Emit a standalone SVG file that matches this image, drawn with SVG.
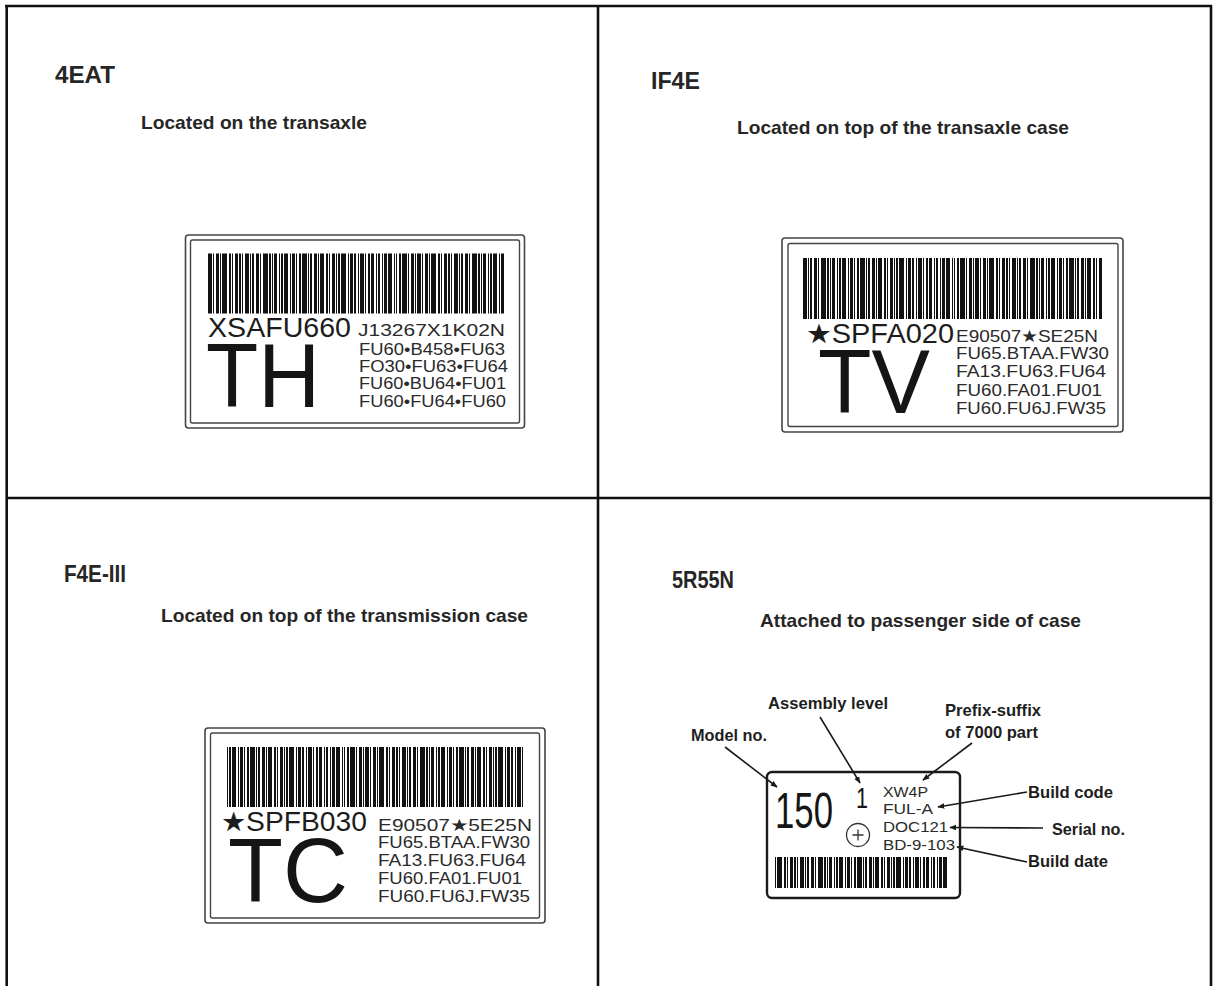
<svg xmlns="http://www.w3.org/2000/svg" width="1213" height="986" viewBox="0 0 1213 986">
<defs>
<marker id="ah" viewBox="0 0 10 10" refX="9" refY="5" markerWidth="7" markerHeight="7" markerUnits="userSpaceOnUse" orient="auto">
<path d="M0,1 L10,5 L0,9 Z" fill="#1a1a1a"/>
</marker>
</defs>
<style>
.frame{stroke:#111;stroke-width:2.6;fill:none}
.h1{font-family:"Liberation Sans",Arial,sans-serif;font-weight:bold;font-size:24px;fill:#262626}
.h2{font-family:"Liberation Sans",Arial,sans-serif;font-weight:bold;font-size:19px;fill:#262626}
.lbo{fill:#fff;stroke:#444;stroke-width:1.6}
.lbi{fill:none;stroke:#444;stroke-width:1.4}
.bc{fill:none;stroke:#111;stroke-dasharray:4 1 1 2 3 1 1 1 5 2 2 1 1 2 3 1 2 1 1 2 4 1 1 1 2 2 3 1 1 2 5 1 2 1 1 1 3 2 1 1 2 1 4 2 1 1 3 1 1 2 2 1 5 1 1 1 2 2 3 1 1 1 4 2 2 1 1 2 3 1 1 1 2 1 5 2 1 1 3 1 2 2 1 1 4 1 1 2 2 1 3 2 1 1 2 2 1 1 3 1 4 2 1 1 1 2 2 1 5 1 1 2 3 1 1 1}
.big{font-family:"Liberation Sans",Arial,sans-serif;font-size:27px;fill:#1c1c1c}
.sm{font-family:"Liberation Sans",Arial,sans-serif;font-size:17px;fill:#2a2a2a}
.huge{font-family:"Liberation Sans",Arial,sans-serif;font-size:90px;fill:#151515}
.ann{font-family:"Liberation Sans",Arial,sans-serif;font-weight:bold;font-size:16.5px;fill:#1e1e1e}
.lt{font-family:"Liberation Sans",Arial,sans-serif;font-size:15px;fill:#2a2a2a}
.arr{stroke:#1a1a1a;stroke-width:1.6;fill:none;marker-end:url(#ah)}
</style>
<rect width="1213" height="986" fill="#fff"/>
<g id="frame">
<line class="frame" x1="5" y1="6" x2="1212" y2="6"/>
<line class="frame" x1="6.7" y1="5" x2="6.7" y2="986"/>
<line class="frame" x1="1211" y1="5" x2="1211" y2="986"/>
<line class="frame" x1="598" y1="5" x2="598" y2="986"/>
<line class="frame" x1="6" y1="498" x2="1212" y2="498"/>
</g>
<g id="panel-4eat">
<text class="h1" x="55" y="83" textLength="60" lengthAdjust="spacingAndGlyphs">4EAT</text>
<text class="h2" x="141" y="129" textLength="226" lengthAdjust="spacingAndGlyphs">Located on the transaxle</text>
<g id="label-4eat">
<rect class="lbo" x="185.5" y="235" width="339" height="193" rx="3"/>
<rect class="lbi" x="190.5" y="240" width="329" height="183" rx="2"/>
<line class="bc" x1="208" y1="283.5" x2="505" y2="283.5" stroke-width="60"/>
<text class="big" x="208" y="337" textLength="143" lengthAdjust="spacingAndGlyphs">XSAFU660</text>
<text class="sm" x="358" y="336" textLength="147" lengthAdjust="spacingAndGlyphs">J13267X1K02N</text>
<text class="sm" x="359" y="355" textLength="146" lengthAdjust="spacingAndGlyphs">FU60•B458•FU63</text>
<text class="sm" x="359" y="372" textLength="149" lengthAdjust="spacingAndGlyphs">FO30•FU63•FU64</text>
<text class="sm" x="359" y="389" textLength="147" lengthAdjust="spacingAndGlyphs">FU60•BU64•FU01</text>
<text class="sm" x="359" y="407" textLength="147" lengthAdjust="spacingAndGlyphs">FU60•FU64•FU60</text>
<text class="huge" x="206" y="407" textLength="114" lengthAdjust="spacingAndGlyphs">TH</text>
</g>
</g>
<g id="panel-if4e">
<text class="h1" x="651" y="89" textLength="49" lengthAdjust="spacingAndGlyphs">IF4E</text>
<text class="h2" x="737" y="134" textLength="332" lengthAdjust="spacingAndGlyphs">Located on top of the transaxle case</text>
<g id="label-if4e">
<rect class="lbo" x="782" y="238" width="341" height="194" rx="3"/>
<rect class="lbi" x="788" y="243.5" width="330" height="183" rx="2"/>
<line class="bc" x1="803" y1="288.5" x2="1102" y2="288.5" stroke-width="61" stroke-dashoffset="37"/>
<text class="big" x="806" y="343" textLength="148" lengthAdjust="spacingAndGlyphs">★SPFA020</text>
<text class="sm" x="956" y="342" textLength="142" lengthAdjust="spacingAndGlyphs">E90507★SE25N</text>
<text class="sm" x="956" y="359" textLength="153" lengthAdjust="spacingAndGlyphs">FU65.BTAA.FW30</text>
<text class="sm" x="956" y="377" textLength="150" lengthAdjust="spacingAndGlyphs">FA13.FU63.FU64</text>
<text class="sm" x="956" y="396" textLength="146" lengthAdjust="spacingAndGlyphs">FU60.FA01.FU01</text>
<text class="sm" x="956" y="414" textLength="150" lengthAdjust="spacingAndGlyphs">FU60.FU6J.FW35</text>
<text class="huge" x="818" y="413" textLength="112" lengthAdjust="spacingAndGlyphs">TV</text>
</g>
</g>
<g id="panel-f4e3">
<text class="h1" x="64" y="582" textLength="62" lengthAdjust="spacingAndGlyphs">F4E-III</text>
<text class="h2" x="161" y="622" textLength="367" lengthAdjust="spacingAndGlyphs">Located on top of the transmission case</text>
<g id="label-f4e3">
<rect class="lbo" x="205" y="728" width="340" height="195" rx="3"/>
<rect class="lbi" x="210.5" y="733" width="329" height="185" rx="2"/>
<line class="bc" x1="227" y1="777" x2="523" y2="777" stroke-width="60" stroke-dashoffset="71"/>
<text class="big" x="221" y="831" textLength="146" lengthAdjust="spacingAndGlyphs">★SPFB030</text>
<text class="sm" x="378" y="831" textLength="154" lengthAdjust="spacingAndGlyphs">E90507★5E25N</text>
<text class="sm" x="378" y="848" textLength="152" lengthAdjust="spacingAndGlyphs">FU65.BTAA.FW30</text>
<text class="sm" x="378" y="866" textLength="148" lengthAdjust="spacingAndGlyphs">FA13.FU63.FU64</text>
<text class="sm" x="378" y="884" textLength="144" lengthAdjust="spacingAndGlyphs">FU60.FA01.FU01</text>
<text class="sm" x="378" y="902" textLength="152" lengthAdjust="spacingAndGlyphs">FU60.FU6J.FW35</text>
<text class="huge" x="228" y="902" textLength="120" lengthAdjust="spacingAndGlyphs">TC</text>
</g>
</g>
<g id="panel-5r55n">
<text class="h1" x="672" y="588" textLength="62" lengthAdjust="spacingAndGlyphs">5R55N</text>
<text class="h2" x="760" y="627" textLength="321" lengthAdjust="spacingAndGlyphs">Attached to passenger side of case</text>
<g id="label-5r55n">
<rect x="767" y="772" width="193" height="126" rx="5" fill="#fff" stroke="#1a1a1a" stroke-width="2.4"/>
<text x="775" y="828" font-family="'Liberation Sans',Arial,sans-serif" font-size="50" fill="#151515" textLength="58" lengthAdjust="spacingAndGlyphs">150</text>
<text x="856" y="808" font-family="'Liberation Sans',Arial,sans-serif" font-size="29" fill="#151515" textLength="12" lengthAdjust="spacingAndGlyphs">1</text>
<circle cx="858" cy="835" r="11.5" fill="none" stroke="#333" stroke-width="1.3"/>
<path d="M852.5,835 h11 M858,829.5 v11" stroke="#333" stroke-width="1.3"/>
<text class="lt" x="883" y="797" textLength="45" lengthAdjust="spacingAndGlyphs">XW4P</text>
<text class="lt" x="883" y="814" textLength="50" lengthAdjust="spacingAndGlyphs">FUL-A</text>
<text class="lt" x="883" y="832" textLength="65" lengthAdjust="spacingAndGlyphs">DOC121</text>
<text class="lt" x="883" y="850" textLength="72" lengthAdjust="spacingAndGlyphs">BD-9-103</text>
<line class="bc" x1="775" y1="872.5" x2="948" y2="872.5" stroke-width="31" stroke-dashoffset="12"/>
</g>
<g id="annotations">
<text class="ann" x="691" y="741" textLength="76" lengthAdjust="spacingAndGlyphs">Model no.</text>
<text class="ann" x="768" y="709" textLength="120" lengthAdjust="spacingAndGlyphs">Assembly level</text>
<text class="ann" x="945" y="716" textLength="96" lengthAdjust="spacingAndGlyphs">Prefix-suffix</text>
<text class="ann" x="945" y="738" textLength="93" lengthAdjust="spacingAndGlyphs">of 7000 part</text>
<text class="ann" x="1028" y="798" textLength="85" lengthAdjust="spacingAndGlyphs">Build code</text>
<text class="ann" x="1052" y="835" textLength="73" lengthAdjust="spacingAndGlyphs">Serial no.</text>
<text class="ann" x="1028" y="867" textLength="80" lengthAdjust="spacingAndGlyphs">Build date</text>
</g>
</g>
<g id="connectors">
<line class="arr" x1="725" y1="747" x2="777" y2="787"/>
<line class="arr" x1="820" y1="717" x2="860" y2="783"/>
<line class="arr" x1="972" y1="743" x2="923" y2="780"/>
<line class="arr" x1="1027" y1="792" x2="938" y2="807"/>
<line class="arr" x1="1043" y1="828" x2="950" y2="827.5"/>
<line class="arr" x1="1027" y1="862" x2="957" y2="847"/>
</g>
</svg>
